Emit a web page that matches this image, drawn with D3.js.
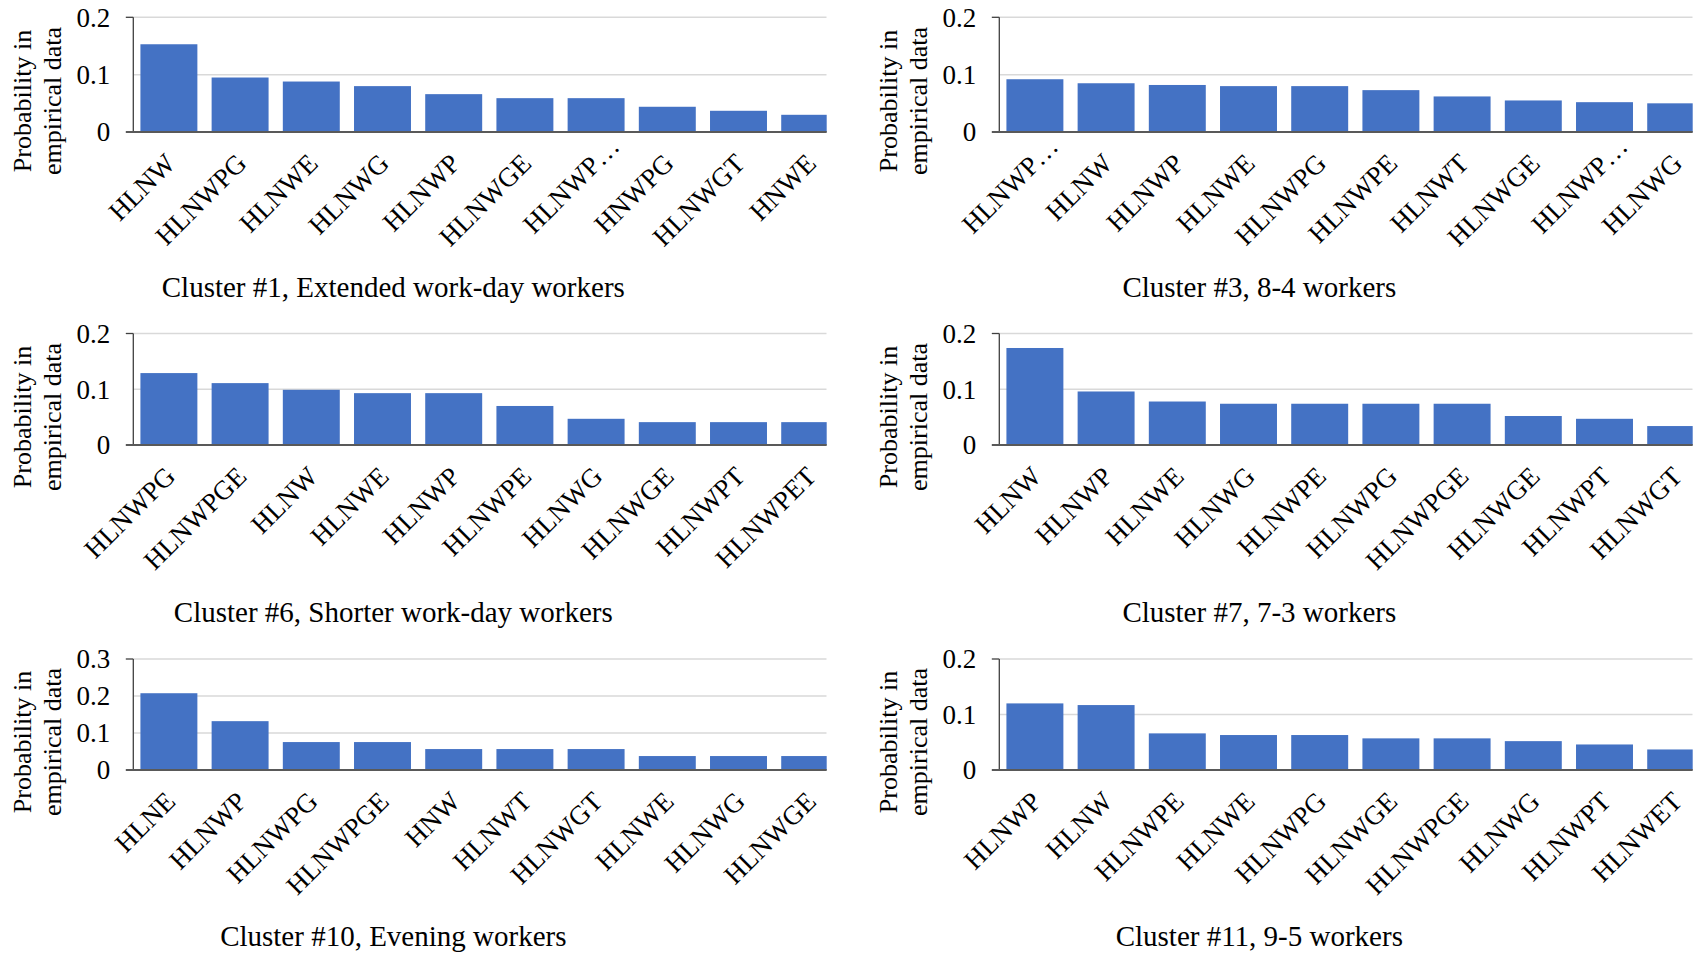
<!DOCTYPE html>
<html>
<head>
<meta charset="utf-8">
<script src="https://cdn.jsdelivr.net/npm/d3@7"></script>
<style>
  html, body { margin: 0; padding: 0; background: #fff; }
  svg { display: block; }
  text { font-family: "Liberation Serif", "Times New Roman", serif; fill: #000; }
</style>
</head>
<body>
<svg id="chart" width="1705" height="960"></svg>
<script>
// Most frequent activity patterns per cluster (probability in empirical data)
const titles = [
  "Cluster #1, Extended work-day workers",
  "Cluster #3, 8-4 workers",
  "Cluster #6, Shorter work-day workers",
  "Cluster #7, 7-3 workers",
  "Cluster #10, Evening workers",
  "Cluster #11, 9-5 workers"
];

const cluster1Labels = ["HLNW", "HLNWPG", "HLNWE", "HLNWG", "HLNWP", "HLNWGE", "HLNWP\u2026", "HNWPG", "HLNWGT", "HNWE"];
const cluster1Values = [0.153, 0.095, 0.088, 0.080, 0.066, 0.059, 0.059, 0.044, 0.037, 0.030];

const cluster3Labels = ["HLNWP\u2026", "HLNW", "HLNWP", "HLNWE", "HLNWPG", "HLNWPE", "HLNWT", "HLNWGE", "HLNWP\u2026", "HLNWG"];
const cluster3Values = [0.092, 0.085, 0.082, 0.080, 0.080, 0.073, 0.062, 0.055, 0.052, 0.050];

const cluster6Labels = ["HLNWPG", "HLNWPGE", "HLNW", "HLNWE", "HLNWP", "HLNWPE", "HLNWG", "HLNWGE", "HLNWPT", "HLNWPET"];
const cluster6Values = [0.129, 0.111, 0.099, 0.093, 0.093, 0.070, 0.047, 0.041, 0.041, 0.041];

const cluster7Labels = ["HLNW", "HLNWP", "HLNWE", "HLNWG", "HLNWPE", "HLNWPG", "HLNWPGE", "HLNWGE", "HLNWPT", "HLNWGT"];
const cluster7Values = [0.174, 0.096, 0.078, 0.074, 0.074, 0.074, 0.074, 0.052, 0.047, 0.034];

const cluster10Labels = ["HLNE", "HLNWP", "HLNWPG", "HLNWPGE", "HNW", "HLNWT", "HLNWGT", "HLNWE", "HLNWG", "HLNWGE"];
const cluster10Values = [0.2075, 0.132, 0.0755, 0.0755, 0.0566, 0.0566, 0.0566, 0.0377, 0.0377, 0.0377];

const cluster11Labels = ["HLNWP", "HLNW", "HLNWPE", "HLNWE", "HLNWPG", "HLNWGE", "HLNWPGE", "HLNWG", "HLNWPT", "HLNWET"];
const cluster11Values = [0.120, 0.117, 0.066, 0.063, 0.063, 0.057, 0.057, 0.052, 0.046, 0.037];

const ticks02 = [0, 0.1, 0.2];
const ticks03 = [0, 0.1, 0.2, 0.3];

const yTitleLines = ["Probability in", "empirical data"];

const panels = [
  { labels: cluster1Labels,  values: cluster1Values,  ticks: ticks02, title: titles[0] },
  { labels: cluster3Labels,  values: cluster3Values,  ticks: ticks02, title: titles[1] },
  { labels: cluster6Labels,  values: cluster6Values,  ticks: ticks02, title: titles[2] },
  { labels: cluster7Labels,  values: cluster7Values,  ticks: ticks02, title: titles[3] },
  { labels: cluster10Labels, values: cluster10Values, ticks: ticks03, title: titles[4] },
  { labels: cluster11Labels, values: cluster11Values, ticks: ticks02, title: titles[5] }
];

// Layout of the 3x2 grid
const colAxisX = [133.3, 999.3];
const rows = [
  { top: 17.3, zero: 132,  yTitleMid: 101, titleY: 297 },
  { top: 333.5, zero: 445, yTitleMid: 417, titleY: 622 },
  { top: 659, zero: 770,  yTitleMid: 742, titleY: 946 }
];
const bandSpan = 712;       // full extent of the ten bands
const visibleWidth = 693.4; // plot area is cut off on the right
const titleOffset = 260;    // title centre relative to axis

const svg = d3.select("#chart");
const BAR = "#4472C4";

panels.forEach((p, i) => {
  const col = i % 2, row = rows[Math.floor(i / 2)];
  const x0 = colAxisX[col];
  const g = svg.append("g");

  const x = d3.scaleBand()
    .domain(p.labels.map((d, k) => k))
    .range([x0, x0 + bandSpan])
    .paddingInner(0.2)
    .paddingOuter(0.1);
  const y = d3.scaleLinear()
    .domain([0, d3.max(p.ticks)])
    .range([row.zero, row.top]);

  const clipId = "clip" + i;
  g.append("clipPath").attr("id", clipId)
    .append("rect")
    .attr("x", x0).attr("y", row.top - 5)
    .attr("width", visibleWidth).attr("height", row.zero - row.top + 10);

  const plot = g.append("g").attr("clip-path", `url(#${clipId})`);

  // gridlines
  plot.selectAll("line.grid")
    .data(p.ticks.filter(t => t > 0))
    .join("line")
    .attr("x1", x0).attr("x2", x0 + visibleWidth)
    .attr("y1", d => y(d)).attr("y2", d => y(d))
    .attr("stroke", "#d9d9d9").attr("stroke-width", 1.5);

  // bars
  plot.selectAll("rect.bar")
    .data(p.values)
    .join("rect")
    .attr("x", (d, k) => x(k))
    .attr("width", x.bandwidth())
    .attr("y", d => y(d))
    .attr("height", d => y(0) - y(d))
    .attr("fill", BAR);

  // value axis line, top tick and baseline
  g.append("line")
    .attr("x1", x0).attr("x2", x0)
    .attr("y1", y(d3.max(p.ticks))).attr("y2", y(0))
    .attr("stroke", "#404040").attr("stroke-width", 1.3);
  g.append("line")
    .attr("x1", x0 - 7.5).attr("x2", x0)
    .attr("y1", y(d3.max(p.ticks))).attr("y2", y(d3.max(p.ticks)))
    .attr("stroke", "#404040").attr("stroke-width", 1.3);
  g.append("line")
    .attr("x1", x0 - 7.5).attr("x2", x0 + visibleWidth)
    .attr("y1", y(0)).attr("y2", y(0))
    .attr("stroke", "#595959").attr("stroke-width", 1.8);

  // tick labels
  g.selectAll("text.tick")
    .data(p.ticks)
    .join("text")
    .attr("x", x0 - 23)
    .attr("y", d => y(d))
    .attr("dy", "0.35em")
    .attr("text-anchor", "end")
    .style("font-size", "27px")
    .text(d => d3.format(".1~f")(d));

  // category labels, rotated; truncated names keep the anchor of the untruncated part
  g.selectAll("text.cat")
    .data(p.labels)
    .join("text")
    .attr("text-anchor", "end")
    .attr("dx", d => d.endsWith("\u2026") ? 24 : 0)
    .attr("transform", (d, k) => `translate(${x(k) + x.bandwidth() / 2 + 8},${row.zero + 33}) rotate(-45)`)
    .style("font-size", "27px")
    .text(d => d);

  // value axis title
  g.append("text")
    .attr("transform", `translate(${x0 - 102},${row.yTitleMid}) rotate(-90)`)
    .attr("text-anchor", "middle")
    .style("font-size", "26px")
    .text(yTitleLines[0]);
  g.append("text")
    .attr("transform", `translate(${x0 - 72},${row.yTitleMid}) rotate(-90)`)
    .attr("text-anchor", "middle")
    .style("font-size", "26px")
    .text(yTitleLines[1]);

  // panel title
  g.append("text")
    .attr("x", x0 + titleOffset)
    .attr("y", row.titleY)
    .attr("text-anchor", "middle")
    .style("font-size", "29px")
    .text(p.title);
});
</script>
</body>
</html>
